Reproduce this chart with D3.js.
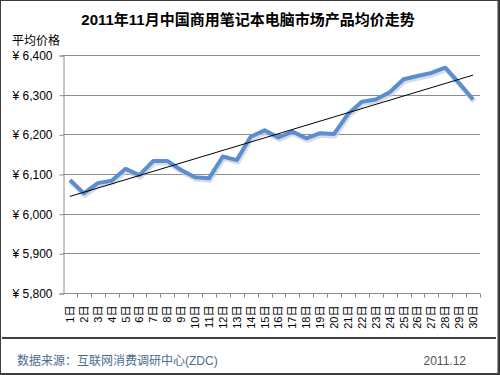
<!DOCTYPE html>
<html>
<head>
<meta charset="utf-8">
<script src="https://cdn.jsdelivr.net/npm/d3@7"></script>
<style>
  body { margin: 0; background: #fff; }
  text { font-family: Arial, "Liberation Sans", "Noto Sans CJK SC", sans-serif; }
</style>
</head>
<body>
<div id="viz"></div>
<script>
// 日期 & 均价
const days = d3.range(1, 31).map(d => d + '日')
const prices = [6085, 6051, 6077, 6083, 6113, 6097, 6133, 6133, 6110, 6092,
                6089, 6144, 6135, 6194, 6210, 6192, 6207, 6190, 6203, 6201,
                6251, 6282, 6288, 6306, 6339, 6347, 6355, 6368, 6329, 6288]
const yTicks = [5800, 5900, 6000, 6100, 6200, 6300, 6400]

let width = 500,
    height = 375

let svg = d3.select('#viz')
            .append('svg')
            .attr('width', width)
            .attr('height', height)

// frame
svg.append('rect')
   .attr('width', width).attr('height', height)
   .style('fill', '#3c3c3c')
svg.append('rect')
   .attr('x', 1).attr('y', 1)
   .attr('width', 496.5).attr('height', 372)
   .style('fill', '#fff')

// title
svg.append('text')
   .attr('x', 248).attr('y', 25)
   .attr('text-anchor', 'middle')
   .style('font-size', '15px')
   .style('font-weight', 'bold')
   .text('2011年11月中国商用笔记本电脑市场产品均价走势')

svg.append('text')
   .attr('x', 12).attr('y', 45)
   .style('font-size', '12px')
   .text('平均价格')

// scales
let x = d3.scaleBand()
          .domain(days)
          .range([63, 480])

let y = d3.scaleLinear()
          .domain([5800, 6400])
          .range([293, 55])

// gridlines
svg.append('g')
   .selectAll('line')
   .data(yTicks.slice(1))
   .enter()
     .append('line')
     .attr('x1', 63).attr('x2', 480)
     .attr('y1', d => Math.round(y(d)) + 0.5)
     .attr('y2', d => Math.round(y(d)) + 0.5)
     .style('stroke', '#8c8c8c')

// y axis
let yAxis = svg.append('g')
   .attr('transform', 'translate(63.5,0.5)')
   .call(d3.axisLeft(y).tickValues(yTicks).tickSize(4).tickPadding(7)
           .tickFormat(d => '¥ ' + d3.format(',')(d)))
yAxis.select('.domain').style('stroke', '#8c8c8c')
yAxis.selectAll('.tick line').style('stroke', '#8c8c8c')
yAxis.selectAll('text').style('font-size', '12px').style('fill', '#000')

// x axis ticks at band edges
let xAxis = svg.append('g')
   .attr('transform', 'translate(0,293.5)')
xAxis.append('line')
   .attr('x1', 63).attr('x2', 480)
   .style('stroke', '#8c8c8c')
xAxis.selectAll('.edge')
   .data(days)
   .enter()
     .append('line')
     .attr('x1', d => Math.round(x(d) + x.bandwidth()) + 0.5)
     .attr('x2', d => Math.round(x(d) + x.bandwidth()) + 0.5)
     .attr('y1', 0).attr('y2', 4)
     .style('stroke', '#8c8c8c')
xAxis.selectAll('.lab')
   .data(days)
   .enter()
     .append('text')
     .attr('transform', d => `translate(${x(d) + x.bandwidth() / 2 + 4},12) rotate(-90)`)
     .attr('text-anchor', 'end')
     .style('font-size', '11px')
     .text(d => d)

let line = d3.line()
             .x((d, i) => x(days[i]) + x.bandwidth() / 2)
             .y(d => y(d))

// shadow
svg.append('path')
   .datum(prices)
   .attr('d', line)
   .attr('transform', 'translate(1,2)')
   .style('fill', 'none')
   .style('stroke', '#c9ced6')
   .style('stroke-width', 5)
   .style('stroke-linejoin', 'round')
   .style('opacity', 0.7)

svg.append('path')
   .datum(prices)
   .attr('d', line)
   .style('fill', 'none')
   .style('stroke', '#5b8dd1')
   .style('stroke-width', 4)
   .style('stroke-linejoin', 'round')

// linear trendline
let n = prices.length
let xs = d3.range(1, n + 1)
let mx = d3.mean(xs), my = d3.mean(prices)
let slope = d3.sum(xs, (v, i) => (v - mx) * (prices[i] - my)) / d3.sum(xs, v => (v - mx) * (v - mx))
let icpt = my - slope * mx
svg.append('line')
   .attr('x1', x(days[0]) + x.bandwidth() / 2)
   .attr('x2', x(days[n - 1]) + x.bandwidth() / 2)
   .attr('y1', y(icpt + slope))
   .attr('y2', y(icpt + slope * n))
   .style('stroke', '#000')
   .style('stroke-width', 1)

// footer
svg.append('line')
   .attr('x1', 2).attr('x2', 496)
   .attr('y1', 338).attr('y2', 338)
   .style('stroke', '#000')
   .style('stroke-width', 1.5)

svg.append('text')
   .attr('x', 17).attr('y', 365)
   .style('font-size', '12px')
   .style('fill', '#4a6d8c')
   .text('数据来源：互联网消费调研中心(ZDC)')

svg.append('text')
   .attr('x', 466).attr('y', 365)
   .attr('text-anchor', 'end')
   .style('font-size', '12px')
   .style('fill', '#555')
   .text('2011.12')
</script>
</body>
</html>
